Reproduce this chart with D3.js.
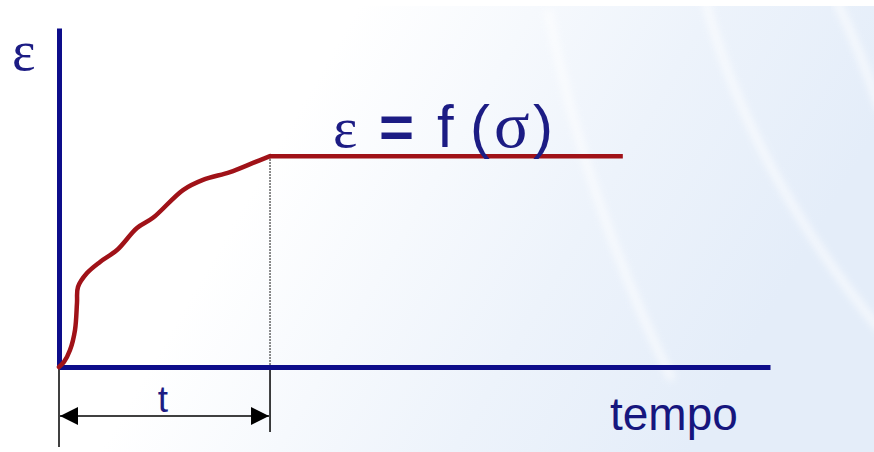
<!DOCTYPE html>
<html>
<head>
<meta charset="utf-8">
<script src="https://cdn.jsdelivr.net/npm/d3@7"></script>
<style>
  html, body { margin: 0; padding: 0; background: #fff; }
  svg { display: block; }
</style>
</head>
<body>
<div id="chart"></div>
<script>
// data - creep curve, strain vs time (arbitrary units)
const times   = [0, 0.07, 0.155, 0.225, 0.253, 0.267, 0.394, 0.577, 0.816, 1.097, 1.322, 1.744, 2.025, 2.405, 2.729, 2.968];
const strains = [0, 0.015, 0.05, 0.109, 0.189, 0.236, 0.277, 0.31, 0.345, 0.41, 0.44, 0.522, 0.552, 0.575, 0.602, 0.622];
const plateauEnd = 7.93;   // time where the flat line stops
const loadTime = 2.968;    // "t"
const labels = ["ε", "t", "tempo"];
// formula "ε = f (σ)" drawn piece by piece
const formulaParts = ["ε", "=", "f", "(", "σ", ")"];

const width = 874;
const height = 452;

// scales
const x = d3.scaleLinear().domain([0, 10]).range([59, 770]);
const y = d3.scaleLinear().domain([0, 1]).range([367, 28]);

const svg = d3.select("#chart").append("svg")
  .attr("width", width)
  .attr("height", height);

const defs = svg.append("defs");
const grad = defs.append("linearGradient").attr("id", "bg").attr("x1", 0).attr("x2", 1).attr("y1", 0).attr("y2", 0.3);
grad.append("stop").attr("offset", "0%").attr("stop-color", "#ffffff");
grad.append("stop").attr("offset", "38%").attr("stop-color", "#ffffff");
grad.append("stop").attr("offset", "75%").attr("stop-color", "#edf3fb");
grad.append("stop").attr("offset", "100%").attr("stop-color", "#e4edf9");
defs.append("filter").attr("id", "blur")
  .append("feGaussianBlur").attr("stdDeviation", 3.5);

// marker for the arrow
defs.append("marker").attr("id", "arrowhead")
  .attr("viewBox", "0 0 10 10").attr("refX", 10).attr("refY", 5)
  .attr("markerWidth", 20).attr("markerHeight", 18).attr("markerUnits", "userSpaceOnUse")
  .attr("orient", "auto-start-reverse")
  .append("path").attr("d", "M0,0L10,5L0,10Z").attr("fill", "#000");

svg.append("rect").attr("width", width).attr("height", height).attr("fill", "url(#bg)");

// soft white arcs in background
const arcs = [
  "M548,10 Q585,200 672,380",
  "M705,0 Q750,170 880,330",
  "M836,0 Q860,50 880,110"
];
svg.selectAll("path.arc").data(arcs).enter().append("path")
  .attr("class", "arc")
  .attr("d", d => d)
  .attr("fill", "none")
  .attr("stroke", "#ffffff")
  .attr("stroke-width", 9)
  .attr("opacity", 0.55)
  .attr("filter", "url(#blur)");

// white strip at top
svg.append("rect").attr("width", width).attr("height", 6).attr("fill", "#fff");

// dotted guide at t
svg.append("line")
  .attr("x1", x(loadTime)).attr("x2", x(loadTime))
  .attr("y1", y(strains[strains.length - 1])).attr("y2", y(0))
  .attr("stroke", "#000").attr("stroke-width", 1.2)
  .attr("stroke-dasharray", "1.5,1.5");

// dimension lines below axis
svg.append("line")
  .attr("x1", x(0)).attr("x2", x(0)).attr("y1", y(0)).attr("y2", 447)
  .attr("stroke", "#000").attr("stroke-width", 1.5);
svg.append("line")
  .attr("x1", x(loadTime)).attr("x2", x(loadTime)).attr("y1", y(0)).attr("y2", 432)
  .attr("stroke", "#000").attr("stroke-width", 1.5);
svg.append("line")
  .attr("x1", x(0) + 1).attr("x2", x(loadTime) - 1).attr("y1", 416).attr("y2", 416)
  .attr("stroke", "#000").attr("stroke-width", 1.5)
  .attr("marker-start", "url(#arrowhead)")
  .attr("marker-end", "url(#arrowhead)");

// axes
const axisColor = "#0d0d8a";
const xAxis = svg.append("g").attr("transform", `translate(0,${y(0)})`)
  .call(d3.axisBottom(x).ticks(0).tickSizeOuter(0));
const yAxis = svg.append("g").attr("transform", `translate(${x(0)},0)`)
  .call(d3.axisLeft(y).ticks(0).tickSizeOuter(0));
[xAxis, yAxis].forEach(a => a.select(".domain")
  .attr("stroke", axisColor).attr("stroke-width", 5).attr("stroke-linecap", "butt"));

// curve
const pts = times.map((t, i) => [t, strains[i]]);
const line = d3.line().x(d => x(d[0])).y(d => y(d[1])).curve(d3.curveCatmullRom);
svg.append("path")
  .attr("d", line(pts))
  .attr("fill", "none")
  .attr("stroke", "#a01218")
  .attr("stroke-width", 4.5)
  .attr("stroke-linecap", "round");
svg.append("line")
  .attr("x1", x(loadTime)).attr("x2", x(plateauEnd))
  .attr("y1", y(strains[strains.length - 1])).attr("y2", y(strains[strains.length - 1]))
  .attr("stroke", "#a01218").attr("stroke-width", 4.5);

// labels
const textColor = "#1c1c84";
const sans = "Liberation Sans, Arial, sans-serif";
const serif = "Liberation Serif, Times New Roman, serif";
svg.append("text").attr("x", 12).attr("y", 70)
  .attr("font-family", serif).attr("font-size", 56)
  .attr("fill", textColor).text(labels[0]);

// formula pieces: [x, font, size, weight]
const formulaStyle = [
  [333, serif, 58, "normal"],
  [379, sans, 60, "bold"],
  [437, sans, 60, "normal"],
  [470, sans, 60, "normal"],
  [494, serif, 66, "normal"],
  [533, sans, 60, "normal"]
];
svg.selectAll("text.formula").data(formulaParts).enter().append("text")
  .attr("class", "formula")
  .attr("x", (d, i) => formulaStyle[i][0])
  .attr("y", 147)
  .attr("font-family", (d, i) => formulaStyle[i][1])
  .attr("font-size", (d, i) => formulaStyle[i][2])
  .attr("font-weight", (d, i) => formulaStyle[i][3])
  .attr("fill", textColor)
  .text(d => d);

svg.append("text").attr("x", 163).attr("y", 412).attr("text-anchor", "middle")
  .attr("font-family", sans).attr("font-size", 37)
  .attr("fill", textColor).text(labels[1]);
svg.append("text").attr("x", 610).attr("y", 430)
  .attr("font-family", sans).attr("font-size", 46)
  .attr("fill", "#16167e").text(labels[2]);
</script>
</body>
</html>
